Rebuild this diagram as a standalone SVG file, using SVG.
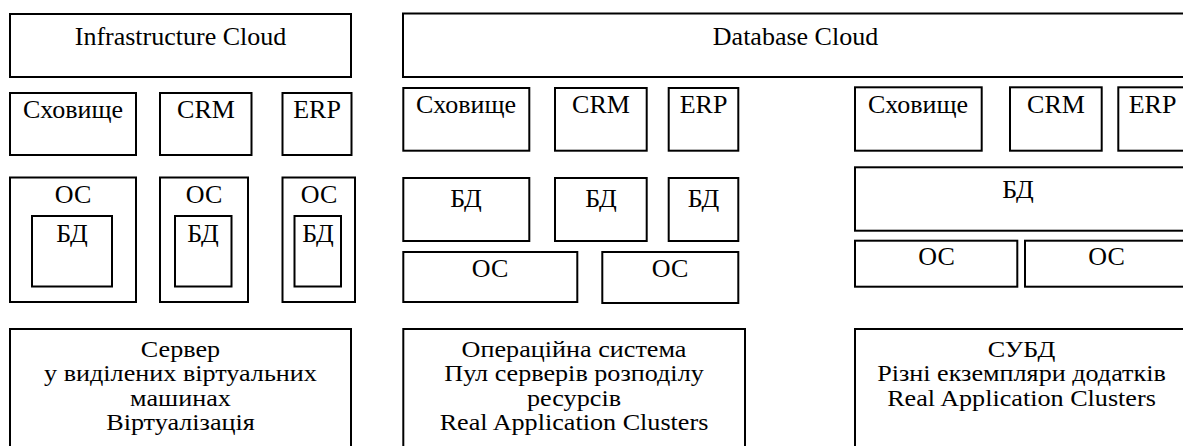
<svg xmlns="http://www.w3.org/2000/svg" width="1183" height="446" viewBox="0 0 1183 446">
<style>
rect{fill:#fff;stroke:#000;stroke-width:2}
text{fill:#000;text-anchor:middle}
</style>
<rect x="0" y="0" width="1183" height="446" style="stroke:none"/>
<g id="infra-cloud"><rect x="10" y="14" width="341" height="63"/><text font-family="Liberation Serif" font-size="26" x="180.5" y="45">Infrastructure Cloud</text></g>
<g id="l-storage"><rect x="10" y="93" width="126" height="62"/><text font-family="Liberation Serif" font-size="26" x="73" y="118">Сховище</text></g>
<g id="l-crm"><rect x="160" y="93" width="91.5" height="62"/><text font-family="Liberation Serif" font-size="26" x="206" y="118">CRM</text></g>
<g id="l-erp"><rect x="282.5" y="93" width="69" height="62"/><text font-family="Liberation Serif" font-size="26" x="317" y="118">ERP</text></g>
<g id="l-os1"><rect x="10" y="177.5" width="126" height="124.5"/><text font-family="Liberation Serif" font-size="26" x="73" y="203">ОС</text>
<g id="l-db1"><rect x="32" y="216" width="80" height="70.5"/><text font-family="Liberation Serif" font-size="26" x="72" y="242">БД</text></g></g>
<g id="l-os2"><rect x="160" y="177.5" width="88" height="124.5"/><text font-family="Liberation Serif" font-size="26" x="204" y="203">ОС</text>
<g id="l-db2"><rect x="175" y="216" width="56.5" height="70.5"/><text font-family="Liberation Serif" font-size="26" x="203" y="242">БД</text></g></g>
<g id="l-os3"><rect x="282.5" y="177.5" width="72.5" height="124.5"/><text font-family="Liberation Serif" font-size="26" x="319" y="203">ОС</text>
<g id="l-db3"><rect x="294.5" y="216" width="46.5" height="70.5"/><text font-family="Liberation Serif" font-size="26" x="318" y="242">БД</text></g></g>
<g id="l-bottom"><rect x="10" y="329" width="341" height="130"/>
<text font-family="Liberation Serif" font-size="24" transform="translate(180.5,0) scale(1.09,1)"><tspan x="0" y="357">Сервер</tspan><tspan x="0" y="381.5">у виділених віртуальних</tspan><tspan x="0" y="406">машинах</tspan><tspan x="0" y="430.5">Віртуалізація</tspan></text></g>

<g id="db-cloud"><rect x="403" y="13.5" width="785" height="63.5"/><text font-family="Liberation Serif" font-size="26" x="795.5" y="45">Database Cloud</text></g>
<g id="m-storage"><rect x="403.3" y="88" width="126" height="62.7"/><text font-family="Liberation Serif" font-size="26" x="466" y="113">Сховище</text></g>
<g id="m-crm"><rect x="555" y="88" width="91.7" height="62.7"/><text font-family="Liberation Serif" font-size="26" x="601" y="113">CRM</text></g>
<g id="m-erp"><rect x="668.7" y="88" width="69.6" height="62.7"/><text font-family="Liberation Serif" font-size="26" x="703.5" y="113">ERP</text></g>
<g id="m-db1"><rect x="403.3" y="178" width="126" height="63"/><text font-family="Liberation Serif" font-size="26" x="466" y="207">БД</text></g>
<g id="m-db2"><rect x="555" y="178" width="91.7" height="63"/><text font-family="Liberation Serif" font-size="26" x="601" y="207">БД</text></g>
<g id="m-db3"><rect x="668.7" y="178" width="69.6" height="63"/><text font-family="Liberation Serif" font-size="26" x="703.5" y="207">БД</text></g>
<g id="m-os1"><rect x="403.3" y="252" width="174" height="50"/><text font-family="Liberation Serif" font-size="26" x="490" y="277">ОС</text></g>
<g id="m-os2"><rect x="602.3" y="252" width="136" height="51"/><text font-family="Liberation Serif" font-size="26" x="670" y="277">ОС</text></g>
<g id="m-bottom"><rect x="403.3" y="329" width="341.7" height="130"/>
<text font-family="Liberation Serif" font-size="24" transform="translate(574,0) scale(1.09,1)"><tspan x="0" y="357">Операційна система</tspan><tspan x="0" y="381.5">Пул серверів розподілу</tspan><tspan x="0" y="406">ресурсів</tspan><tspan x="0" y="430.5">Real Application Clusters</tspan></text></g>

<g id="r-storage"><rect x="855" y="87.3" width="126.7" height="63.4"/><text font-family="Liberation Serif" font-size="26" x="918" y="113">Сховище</text></g>
<g id="r-crm"><rect x="1010" y="87.3" width="91.7" height="63.4"/><text font-family="Liberation Serif" font-size="26" x="1056" y="113">CRM</text></g>
<g id="r-erp"><rect x="1118.3" y="87.3" width="68.7" height="63.4"/><text font-family="Liberation Serif" font-size="26" x="1152.5" y="113">ERP</text></g>
<g id="r-db"><rect x="855" y="167.3" width="331" height="63.4"/><text font-family="Liberation Serif" font-size="26" x="1018" y="198">БД</text></g>
<g id="r-os1"><rect x="855" y="240.7" width="162.3" height="46"/><text font-family="Liberation Serif" font-size="26" x="936.5" y="265">ОС</text></g>
<g id="r-os2"><rect x="1025" y="240.7" width="163" height="46"/><text font-family="Liberation Serif" font-size="26" x="1106.5" y="265">ОС</text></g>
<g id="r-bottom"><rect x="855" y="329" width="333" height="130"/>
<text font-family="Liberation Serif" font-size="24" transform="translate(1021.5,0) scale(1.09,1)"><tspan x="0" y="357">СУБД</tspan><tspan x="0" y="381.5">Різні екземпляри додатків</tspan><tspan x="0" y="406">Real Application Clusters</tspan></text></g>
<g id="connectors"/>
</svg>
